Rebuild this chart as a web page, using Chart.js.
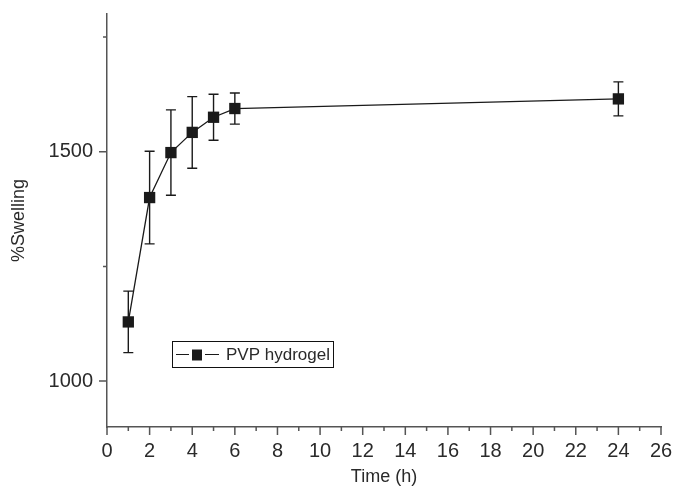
<!DOCTYPE html>
<html>
<head>
<meta charset="utf-8">
<script src="https://cdn.jsdelivr.net/npm/chart.js@4"></script>
<style>
  html, body { margin: 0; padding: 0; background: #fff; }
  #wrap { width: 673px; height: 492px; }
</style>
</head>
<body>
<div id="wrap"><canvas id="swellChart"></canvas></div>
<script>
// datos
const times = [1, 2, 3, 4, 5, 6, 24];
const swelling = [1129, 1400, 1498, 1542, 1575, 1594, 1615];
const swellErr = [67, 101, 93, 78, 50, 34, 37];

const xMajorTicks = [0, 2, 4, 6, 8, 10, 12, 14, 16, 18, 20, 22, 24, 26];
const xMinorTicks = [1, 3, 5, 7, 9, 11, 13, 15, 17, 19, 21, 23, 25];
const yMajorTicks = [1000, 1500];
const yMinorTicks = [1250, 1750];

const seriesName = "PVP hydrogel";
const FONT = "'Liberation Sans', Arial, sans-serif";
const AXIS = "#555";
const TEXT = "#2a2a2a";
const MARK = "#1a1a1a";

// barras de error, marcas de los ejes y leyenda
const extras = {
    id: "extras",
    afterDatasetsDraw(chart) {
        const ctx = chart.ctx;
        const x = chart.scales.x;
        const y = chart.scales.y;
        const area = chart.chartArea;

        ctx.save();
        // barras de error
        ctx.strokeStyle = MARK;
        ctx.lineWidth = 1.4;
        times.forEach((t, i) => {
            const px = x.getPixelForValue(t);
            const top = y.getPixelForValue(swelling[i] + swellErr[i]);
            const bot = y.getPixelForValue(swelling[i] - swellErr[i]);
            ctx.beginPath();
            ctx.moveTo(px, top); ctx.lineTo(px, bot);
            ctx.moveTo(px - 5, top); ctx.lineTo(px + 5, top);
            ctx.moveTo(px - 5, bot); ctx.lineTo(px + 5, bot);
            ctx.stroke();
        });

        // marcas de los ejes
        ctx.strokeStyle = AXIS;
        ctx.lineWidth = 1.5;
        ctx.beginPath();
        xMajorTicks.forEach((v) => {
            const px = x.getPixelForValue(v);
            ctx.moveTo(px, area.bottom); ctx.lineTo(px, area.bottom + 8);
        });
        xMinorTicks.forEach((v) => {
            const px = x.getPixelForValue(v);
            ctx.moveTo(px, area.bottom); ctx.lineTo(px, area.bottom + 4);
        });
        yMajorTicks.forEach((v) => {
            const py = y.getPixelForValue(v);
            ctx.moveTo(area.left, py); ctx.lineTo(area.left - 8, py);
        });
        yMinorTicks.forEach((v) => {
            const py = y.getPixelForValue(v);
            ctx.moveTo(area.left, py); ctx.lineTo(area.left - 4, py);
        });
        ctx.stroke();

        // leyenda
        const lx = area.left + 65;
        const ly = area.top + 327;
        ctx.strokeStyle = "#111";
        ctx.lineWidth = 1;
        ctx.strokeRect(lx + 0.5, ly + 0.5, 161, 26);
        const my = ly + 13.5;
        ctx.strokeStyle = MARK;
        ctx.lineWidth = 1.2;
        ctx.beginPath();
        ctx.moveTo(lx + 4, my); ctx.lineTo(lx + 17, my);
        ctx.moveTo(lx + 33, my); ctx.lineTo(lx + 47, my);
        ctx.stroke();
        ctx.fillStyle = MARK;
        ctx.fillRect(lx + 20, my - 5, 10, 11);
        ctx.fillStyle = TEXT;
        ctx.font = "17px " + FONT;
        ctx.textBaseline = "middle";
        ctx.textAlign = "left";
        ctx.fillText(seriesName, lx + 54, my + 1);
        ctx.restore();
    },
};

const ctx = document.getElementById("swellChart").getContext("2d");
new Chart(ctx, {
    type: "line",
    data: {
        datasets: [
            {
                label: seriesName,
                data: times.map((t, i) => ({ x: t, y: swelling[i] })),
                borderColor: MARK,
                backgroundColor: MARK,
                borderWidth: 1.3,
                pointStyle: "rect",
                pointRadius: 8,
                pointHoverRadius: 8,
                pointBorderWidth: 0,
                tension: 0,
            },
        ],
    },
    options: {
        responsive: true,
        maintainAspectRatio: false,
        animation: false,
        layout: { padding: { top: 14, right: 12, left: 0, bottom: 0 } },
        plugins: {
            legend: { display: false },
            tooltip: { enabled: false },
        },
        scales: {
            x: {
                type: "linear",
                min: 0,
                max: 26,
                afterBuildTicks: (s) => { s.ticks = xMajorTicks.map((v) => ({ value: v })); },
                afterFit: (s) => { s.height = 65; s.paddingLeft = 0; s.paddingRight = 0; },
                ticks: {
                    color: TEXT,
                    font: { family: FONT, size: 20 },
                    padding: 12,
                    maxRotation: 0,
                    autoSkip: false,
                    callback: (v) => String(v),
                },
                grid: { display: false, drawTicks: false },
                border: { color: AXIS, width: 1.5 },
                title: {
                    display: true,
                    text: "Time (h)",
                    color: TEXT,
                    font: { family: FONT, size: 18 },
                    padding: { top: 4 },
                },
            },
            y: {
                min: 900,
                max: 1800,
                afterBuildTicks: (s) => { s.ticks = yMajorTicks.map((v) => ({ value: v })); },
                afterFit: (s) => { s.width = 107; s.paddingTop = 0; s.paddingBottom = 0; },
                ticks: {
                    color: TEXT,
                    font: { family: FONT, size: 20 },
                    padding: 14,
                    callback: (v) => String(v),
                },
                grid: { display: false, drawTicks: false },
                border: { color: AXIS, width: 1.5 },
                title: {
                    display: true,
                    text: "%Swelling",
                    color: TEXT,
                    font: { family: FONT, size: 18 },
                    padding: { top: 8, bottom: 0 },
                },
            },
        },
    },
    plugins: [extras],
});
</script>
</body>
</html>
